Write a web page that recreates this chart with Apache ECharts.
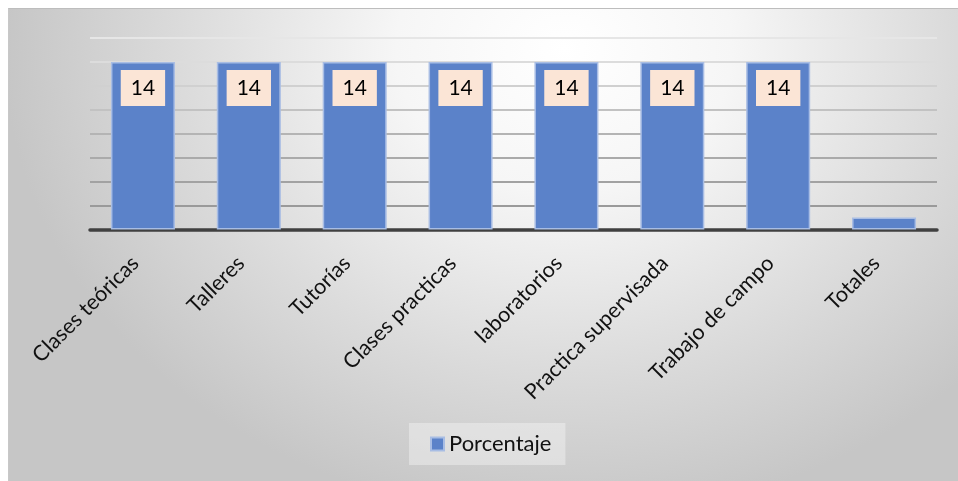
<!DOCTYPE html>
<html>
<head>
<meta charset="utf-8">
<script src="https://cdn.jsdelivr.net/npm/echarts@6/dist/echarts.min.js"></script>
<style>
  html, body { margin:0; padding:0; background:#ffffff; }
  #bg { position:absolute; left:8px; top:8px; width:950px; height:473px;
        border-top:1px solid #bdbdbd; border-left:1px solid #c8c8c8; box-sizing:border-box;
        background: radial-gradient(ellipse 560px 470px at 555px 40px, #ffffff 0%, #f6f6f6 30%, #dadada 70%, #c6c6c6 100%); }
  #chart { position:absolute; left:0; top:0; width:958px; height:481px; }
</style>
</head>
<body>
<div id="bg"></div>
<div id="chart"></div>
<script>
const categories = ["Clases teóricas", "Talleres", "Tutorías", "Clases practicas", "laboratorios", "Practica supervisada", "Trabajo de campo", "Totales"];
const porcentaje = [14, 14, 14, 14, 14, 14, 14, 1];
const showLabel = [true, true, true, true, true, true, true, false];
const seriesName = "Porcentaje";

const chart = echarts.init(document.getElementById('chart'), null, {renderer:'canvas'});
const FONT = 'Lato, "Open Sans", sans-serif';
chart.setOption({
  backgroundColor: 'transparent',
  animation: false,
  grid: { left: 90, right: 21, top: 38, bottom: 251.5, containLabel: false },
  legend: {
    data: [seriesName],
    left: 409, top: 423,
    backgroundColor: 'rgba(255,255,255,0.35)',
    padding: [10, 14, 10, 21],
    itemWidth: 13, itemHeight: 13, itemGap: 7,
    icon: 'rect',
    textStyle: { fontFamily: FONT, fontSize: 22, color: '#111' }
  },
  xAxis: {
    type: 'category',
    data: categories,
    axisLine: { show: true, lineStyle: { color: '#404040', width: 3.5 } },
    axisTick: { show: false },
    axisLabel: { rotate: 45, margin: 38, verticalAlign: 'bottom', fontFamily: FONT, fontSize: 21.5, color: '#111', interval: 0 }
  },
  yAxis: {
    type: 'value',
    min: 0, max: 16, interval: 2,
    axisLabel: { show: false },
    axisLine: { show: false },
    axisTick: { show: false },
    splitLine: { show: true, lineStyle: { width: 2,
      color: ['#404040', '#9a9a9a', '#a2a2a2', '#aaaaaa', '#b4b4b4', '#c2c2c2', '#d0d0d0', '#dcdcdc', '#e6e6e6'] } }
  },
  series: [{
    name: seriesName,
    type: 'bar',
    data: porcentaje.map((v, i) => ({ value: v, label: { show: showLabel[i] } })),
    barWidth: 64,
    itemStyle: { color: '#5b82c9', borderColor: '#a8bde4', borderWidth: 1.5 },
    label: {
      show: true,
      position: 'insideTop',
      distance: 8,
      backgroundColor: '#fbe5d6',
      padding: [8, 10, 7, 10],
      fontFamily: FONT, fontSize: 21, color: '#000'
    }
  }]
});
</script>
</body>
</html>
